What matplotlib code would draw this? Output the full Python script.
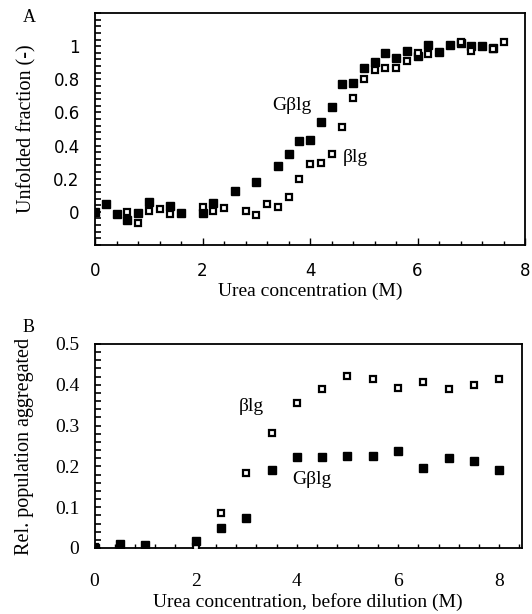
import matplotlib
matplotlib.use("Agg")
import matplotlib.pyplot as plt
from matplotlib.ticker import FixedLocator, MultipleLocator

# ---------------- Data: panel A (unfolded fraction) ----------------
a_gblg_x = [0, 0.2, 0.4, 0.6, 0.8, 1.0, 1.4, 1.6, 2.0, 2.2, 2.6, 3.0, 3.4, 3.6, 3.8, 4.0,
            4.2, 4.4, 4.6, 4.8, 5.0, 5.2, 5.4, 5.6, 5.8, 6.0, 6.2, 6.4, 6.6, 6.8, 7.0, 7.2, 7.4]
a_gblg_y = [-0.002, 0.048, -0.012, -0.048, -0.006, 0.062, 0.034, -0.006, -0.008, 0.056, 0.128,
            0.183, 0.279, 0.35, 0.43, 0.434, 0.544, 0.63, 0.77, 0.775, 0.868, 0.905, 0.956,
            0.926, 0.968, 0.942, 1.005, 0.962, 1.004, 1.02, 1.003, 1.0, 0.99]
a_blg_x = [0.6, 0.8, 1.0, 1.2, 1.4, 2.0, 2.2, 2.4, 2.8, 3.0, 3.2, 3.4, 3.6, 3.8, 4.0, 4.2,
           4.4, 4.6, 4.8, 5.0, 5.2, 5.4, 5.6, 5.8, 6.0, 6.2, 6.8, 7.0, 7.4, 7.6]
a_blg_y = [-0.002, -0.066, 0.008, 0.018, -0.012, 0.028, 0.008, 0.022, 0.004, -0.016, 0.048,
           0.028, 0.088, 0.199, 0.291, 0.297, 0.351, 0.51, 0.69, 0.80, 0.859, 0.869, 0.87,
           0.911, 0.958, 0.952, 1.028, 0.972, 0.98, 1.022]

# ---------------- Data: panel B (aggregated population) ----------------
b_gblg_x = [0, 0.5, 1.0, 2.0, 2.5, 3.0, 3.5, 4.0, 4.5, 5.0, 5.5, 6.0, 6.5, 7.0, 7.5, 8.0]
b_gblg_y = [0.0, 0.009, 0.007, 0.018, 0.048, 0.073, 0.191, 0.224, 0.224, 0.226, 0.226,
            0.238, 0.197, 0.221, 0.213, 0.191]
b_blg_x = [0, 2.0, 2.5, 3.0, 3.5, 4.0, 4.5, 5.0, 5.5, 6.0, 6.5, 7.0, 7.5, 8.0]
b_blg_y = [0.003, 0.003, 0.085, 0.185, 0.281, 0.355, 0.389, 0.422, 0.413, 0.393, 0.407,
           0.389, 0.399, 0.413]

a_yticks = [0, 0.2, 0.4, 0.6, 0.8, 1]
a_yticklabels = ["0", "0.2", "0.4", "0.6", "0.8", "1"]
b_yticks = [0, 0.1, 0.2, 0.3, 0.4, 0.5]
b_yticklabels = ["0", "0.1", "0.2", "0.3", "0.4", "0.5"]
xticks = [0, 2, 4, 6, 8]

SERIF = "Liberation Serif"
SANS = "DejaVu Sans"

fig = plt.figure(figsize=(5.32, 6.14), dpi=100)

W, H = 532, 614
def box(l, t, r, b):
    return [l / W, 1 - b / H, (r - l) / W, (b - t) / H]

axA = fig.add_axes(box(95, 13, 525, 245))
axB = fig.add_axes(box(94.5, 344, 522, 548))

filled = dict(marker="s", linestyle="none", color="black", markersize=5.2, clip_on=True)
opened = dict(marker="s", linestyle="none", markerfacecolor="white", markeredgecolor="black",
              markeredgewidth=1.6, markersize=5.0, clip_on=True)

# Panel A
axA.plot(a_gblg_x, a_gblg_y, **filled, zorder=3)
axA.plot(a_blg_x, a_blg_y, **opened, zorder=4)
axA.set_xlim(0, 8)
axA.set_ylim(-0.2, 1.2)
axA.xaxis.set_major_locator(FixedLocator(xticks))
axA.xaxis.set_minor_locator(MultipleLocator(0.4))
axA.yaxis.set_major_locator(FixedLocator(a_yticks))
axA.yaxis.set_minor_locator(MultipleLocator(0.04))
axA.set_yticklabels(a_yticklabels, fontfamily=SANS, fontsize=12)
axA.set_xticklabels([str(v) for v in xticks], fontfamily=SANS, fontsize=12)
axA.tick_params(axis="x", which="major", direction="in", length=5, width=1, pad=12)
axA.tick_params(axis="x", which="minor", direction="in", length=3, width=1)
axA.tick_params(axis="y", which="both", direction="in", length=4.5, width=1.2, pad=11)
axA.set_xlabel("Urea concentration (M)", fontfamily=SERIF, fontsize=14, labelpad=2)
axA.set_ylabel("Unfolded fraction (-)", fontfamily=SERIF, fontsize=14.5, labelpad=12)
axA.text(3.29, 0.64, "Gβlg", fontfamily=SERIF, fontsize=14, ha="left", va="center")
axA.text(4.61, 0.33, "βlg", fontfamily=SERIF, fontsize=14, ha="left", va="center")

# Panel B
axB.plot(b_blg_x, b_blg_y, **opened, zorder=3)
axB.plot(b_gblg_x, b_gblg_y, **filled, zorder=4)
axB.set_xlim(0, 8.45)
axB.set_ylim(0, 0.5)
axB.xaxis.set_major_locator(FixedLocator(xticks))
axB.xaxis.set_minor_locator(MultipleLocator(0.4))
axB.yaxis.set_major_locator(FixedLocator(b_yticks))
axB.yaxis.set_minor_locator(MultipleLocator(0.02))
axB.set_yticklabels(b_yticklabels, fontfamily=SERIF, fontsize=14)
axB.set_xticklabels([str(v) for v in xticks], fontfamily=SERIF, fontsize=14)
axB.tick_params(axis="x", which="both", direction="in", length=3, width=1, pad=18)
axB.tick_params(axis="y", which="both", direction="in", length=4.5, width=1.2, pad=11)
axB.set_xlabel("Urea concentration, before dilution (M)", fontfamily=SERIF, fontsize=14, labelpad=2)
axB.set_ylabel("Rel. population aggregated", fontfamily=SERIF, fontsize=14.5, labelpad=15)
axB.text(2.85, 0.346, "βlg", fontfamily=SERIF, fontsize=14, ha="left", va="center")
axB.text(3.9, 0.167, "Gβlg", fontfamily=SERIF, fontsize=14, ha="left", va="center")

for ax in (axA, axB):
    for s in ax.spines.values():
        s.set_linewidth(1.3)
        s.set_color("black")
    ax.tick_params(top=False, right=False, which="both", colors="black")

fig.text(29 / W, 1 - 17 / H, "A", fontfamily=SERIF, fontsize=13, ha="center", va="center")
fig.text(29 / W, 1 - 328 / H, "B", fontfamily=SERIF, fontsize=13, ha="center", va="center")

fig.savefig("out.png", dpi=100)
